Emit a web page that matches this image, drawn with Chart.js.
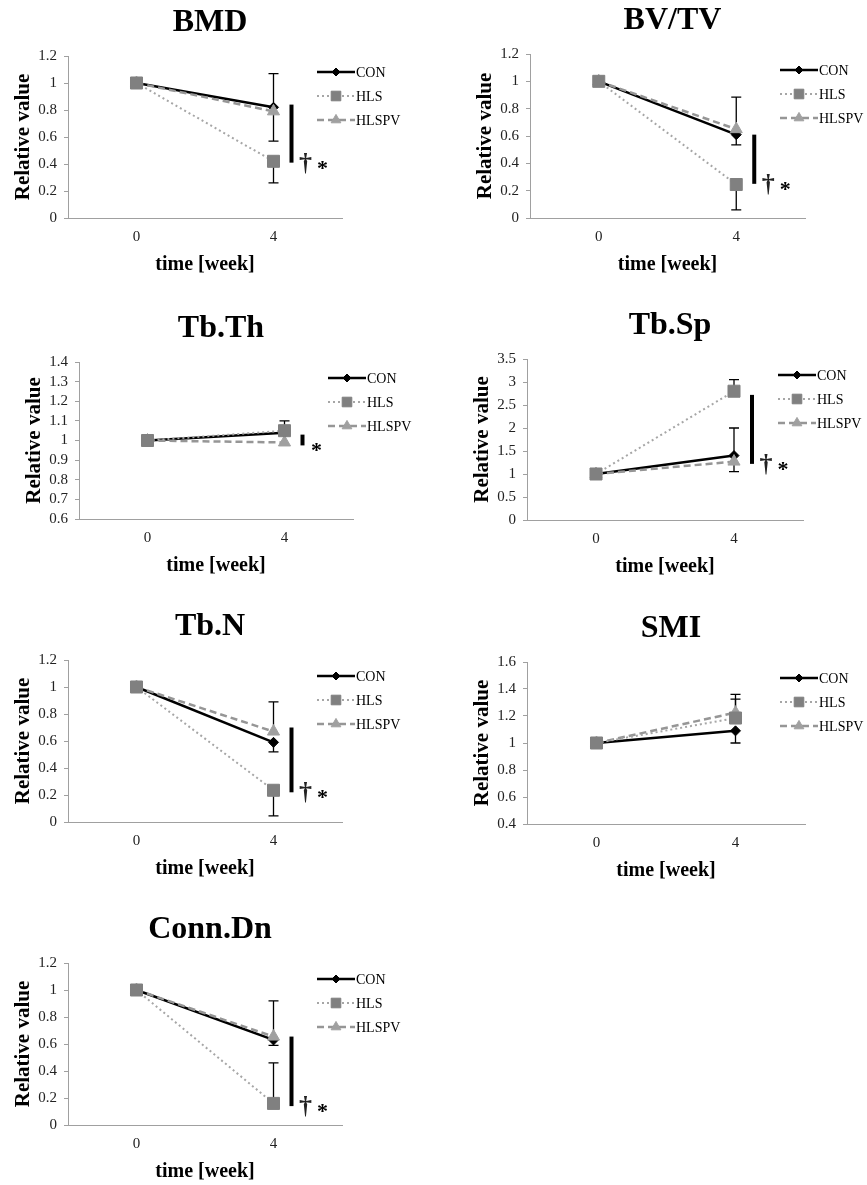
<!DOCTYPE html>
<html>
<head>
<meta charset="utf-8">
<script src="https://cdn.jsdelivr.net/npm/chart.js@4"></script>
<style>
  body { margin: 0; background: #fff; }
  .panel { position: absolute; height: 285px; }
</style>
</head>
<body>
<div class="panel" style="left:0;top:0"><canvas id="c0" width="430" height="285"></canvas></div>
<div class="panel" style="left:430px;top:0"><canvas id="c1" width="437" height="285"></canvas></div>
<div class="panel" style="left:0;top:300px"><canvas id="c2" width="430" height="285"></canvas></div>
<div class="panel" style="left:430px;top:300px"><canvas id="c3" width="437" height="285"></canvas></div>
<div class="panel" style="left:0;top:600px"><canvas id="c4" width="430" height="285"></canvas></div>
<div class="panel" style="left:430px;top:600px"><canvas id="c5" width="437" height="285"></canvas></div>
<div class="panel" style="left:0;top:900px"><canvas id="c6" width="430" height="285"></canvas></div>
<script>
const weeks = ['0', '4'];
const groups = ['CON', 'HLS', 'HLSPV'];
const titles = ['BMD', 'BV/TV', 'Tb.Th', 'Tb.Sp', 'Tb.N', 'SMI', 'Conn.Dn'];

// relative values at week 0 and week 4
const bmdCon = [1, 0.82], bmdHls = [1, 0.42], bmdHlspv = [1, 0.79];
const bvtvCon = [1, 0.61], bvtvHls = [1, 0.245], bvtvHlspv = [1, 0.65];
const tbthCon = [1, 1.04], tbthHls = [1, 1.05], tbthHlspv = [1, 0.99];
const tbspCon = [1, 1.40], tbspHls = [1, 2.80], tbspHlspv = [1, 1.27];
const tbnCon = [1, 0.59], tbnHls = [1, 0.235], tbnHlspv = [1, 0.67];
const smiCon = [1, 1.09], smiHls = [1, 1.185], smiHlspv = [1, 1.225];
const connCon = [1, 0.63], connHls = [1, 0.16], connHlspv = [1, 0.655];

// error bars at week 4 (CON, HLS, HLSPV)
const bmdErrUp = [0.25, 0, 0], bmdErrDown = [0.25, 0.16, 0];
const bvtvErrUp = [0, 0, 0.235], bvtvErrDown = [0.075, 0.185, 0];
const tbthErrUp = [0, 0.05, 0], tbthErrDown = [0, 0, 0];
const tbspErrUp = [0.6, 0.25, 0], tbspErrDown = [0, 0, 0.22];
const tbnErrUp = [0, 0, 0.22], tbnErrDown = [0.07, 0.19, 0];
const smiErrUp = [0, 0.14, 0.135], smiErrDown = [0.09, 0, 0];
const connErrUp = [0, 0.30, 0.265], connErrDown = [0.04, 0, 0];

// significance bar (from, to) and its marks
const bmdSig = [0.41, 0.84], bmdMarks = ['†', '*'];
const bvtvSig = [0.25, 0.61], bvtvMarks = ['†', '*'];
const tbthSig = [0.975, 1.03], tbthMarks = ['*'];
const tbspSig = [1.22, 2.72], tbspMarks = ['†', '*'];
const tbnSig = [0.22, 0.70], tbnMarks = ['†', '*'];
const smiSig = [], smiMarks = [];
const connSig = [0.14, 0.655], connMarks = ['†', '*'];

// y axis: min, max, step
const bmdAxis = [0, 1.2, 0.2];
const bvtvAxis = [0, 1.2, 0.2];
const tbthAxis = [0.6, 1.4, 0.1];
const tbspAxis = [0, 3.5, 0.5];
const tbnAxis = [0, 1.2, 0.2];
const smiAxis = [0.4, 1.6, 0.2];
const connAxis = [0, 1.2, 0.2];

const panels = [
  { series: [bmdCon, bmdHls, bmdHlspv], up: bmdErrUp, down: bmdErrDown, sig: bmdSig, marks: bmdMarks, axis: bmdAxis, area: [68, 56, 342, 218] },
  { series: [bvtvCon, bvtvHls, bvtvHlspv], up: bvtvErrUp, down: bvtvErrDown, sig: bvtvSig, marks: bvtvMarks, axis: bvtvAxis, area: [100, 54, 375, 218] },
  { series: [tbthCon, tbthHls, tbthHlspv], up: tbthErrUp, down: tbthErrDown, sig: tbthSig, marks: tbthMarks, axis: tbthAxis, area: [79, 62, 353, 219] },
  { series: [tbspCon, tbspHls, tbspHlspv], up: tbspErrUp, down: tbspErrDown, sig: tbspSig, marks: tbspMarks, axis: tbspAxis, area: [97, 59, 373, 220] },
  { series: [tbnCon, tbnHls, tbnHlspv], up: tbnErrUp, down: tbnErrDown, sig: tbnSig, marks: tbnMarks, axis: tbnAxis, area: [68, 60, 342, 222] },
  { series: [smiCon, smiHls, smiHlspv], up: smiErrUp, down: smiErrDown, sig: smiSig, marks: smiMarks, axis: smiAxis, area: [97, 62, 375, 224] },
  { series: [connCon, connHls, connHlspv], up: connErrUp, down: connErrDown, sig: connSig, marks: connMarks, axis: connAxis, area: [68, 63, 342, 225] }
];

const FONT = "'Liberation Serif', 'Times New Roman', serif";
const H = 285;

const styles = [
  { borderColor: '#000', pointBackgroundColor: '#000', pointBorderColor: '#000', borderWidth: 2.5, borderDash: [], pointStyle: 'rectRot', pointRadius: 5, order: 3 },
  { borderColor: '#a6a6a6', pointBackgroundColor: '#808080', pointBorderColor: '#808080', borderWidth: 2, borderDash: [2, 3], pointStyle: 'rect', pointRadius: 8.5, order: 1 },
  { borderColor: '#969696', pointBackgroundColor: '#a0a0a0', pointBorderColor: '#a0a0a0', borderWidth: 2.5, borderDash: [7, 4], pointStyle: 'triangle', pointRadius: 7, order: 2 }
];

// error bars under the markers
const errorBars = {
  id: 'errorBars',
  beforeDatasetsDraw(chart) {
    const p = chart.options.plugins.errorBars.panel;
    const y = chart.scales.y;
    const ctx = chart.ctx;
    ctx.save();
    ctx.strokeStyle = '#000';
    ctx.lineWidth = 1.3;
    groups.forEach((g, i) => {
      const pt = chart.getDatasetMeta(i).data[1];
      const v = p.series[i][1];
      const top = y.getPixelForValue(v + p.up[i]);
      const bot = y.getPixelForValue(v - p.down[i]);
      ctx.beginPath();
      ctx.moveTo(pt.x, top);
      ctx.lineTo(pt.x, bot);
      if (p.up[i]) { ctx.moveTo(pt.x - 5, top); ctx.lineTo(pt.x + 5, top); }
      if (p.down[i]) { ctx.moveTo(pt.x - 5, bot); ctx.lineTo(pt.x + 5, bot); }
      ctx.stroke();
    });
    ctx.restore();
  }
};

// title, legend and significance marks
const extras = {
  id: 'extras',
  afterDraw(chart) {
    const p = chart.options.plugins.extras.panel;
    const title = chart.options.plugins.extras.title;
    const ctx = chart.ctx;
    const a = chart.chartArea;
    const x = chart.scales.x, y = chart.scales.y;
    ctx.save();
    ctx.fillStyle = '#000';
    ctx.font = 'bold 32px ' + FONT;
    ctx.textAlign = 'center';
    ctx.textBaseline = 'middle';
    ctx.fillText(title, (a.left + a.right) / 2 + 5, a.top - 33);

    // legend
    const lx = a.right - 25;
    groups.forEach((g, i) => {
      const s = styles[i];
      const ly = a.top + 16 + i * 24;
      ctx.save();
      ctx.strokeStyle = s.borderColor;
      ctx.lineWidth = s.borderWidth;
      ctx.setLineDash(s.borderDash);
      ctx.beginPath();
      ctx.moveTo(lx, ly);
      ctx.lineTo(lx + 38, ly);
      ctx.stroke();
      ctx.restore();
      ctx.fillStyle = s.pointBackgroundColor;
      ctx.strokeStyle = s.pointBorderColor;
      Chart.helpers.drawPoint(ctx, { pointStyle: s.pointStyle, radius: s.pointRadius * 0.8, rotation: 0, borderWidth: 1 }, lx + 19, ly);
      ctx.fillStyle = '#000';
      ctx.font = '14px ' + FONT;
      ctx.textAlign = 'left';
      ctx.fillText(g, lx + 39, ly + 1);
    });

    // significance bar
    if (p.sig.length) {
      const bx = x.getPixelForValue(1) + 18;
      const yb = y.getPixelForValue(p.sig[0]);
      ctx.strokeStyle = '#000';
      ctx.lineWidth = 4;
      ctx.beginPath();
      ctx.moveTo(bx, y.getPixelForValue(p.sig[1]));
      ctx.lineTo(bx, yb);
      ctx.stroke();
      ctx.textBaseline = 'alphabetic';
      ctx.textAlign = 'center';
      let mx = bx + 14;
      p.marks.forEach(m => {
        if (m === '†') {
          ctx.fillStyle = '#222';
          ctx.font = 'bold 26px ' + FONT;
          ctx.fillText(m, mx, yb + 8);
        } else {
          ctx.fillStyle = '#000';
          ctx.font = 'bold 22px ' + FONT;
          ctx.fillText(m, mx, yb + 12);
        }
        mx += 17;
      });
    }
    ctx.restore();
  }
};

panels.forEach((p, k) => {
  const [l, t, r, b] = p.area;
  const canvas = document.getElementById('c' + k);
  const W = canvas.width;
  new Chart(canvas, {
    type: 'line',
    data: {
      labels: weeks,
      datasets: groups.map((g, i) => Object.assign({ label: g, data: p.series[i], pointBorderWidth: 1, fill: false, tension: 0 }, styles[i]))
    },
    options: {
      responsive: false,
      animation: false,
      layout: { padding: { left: 0, top: t, right: W - r, bottom: 0 } },
      plugins: {
        legend: { display: false },
        tooltip: { enabled: false },
        errorBars: { panel: p },
        extras: { panel: p, title: titles[k] }
      },
      scales: {
        x: {
          type: 'category',
          offset: true,
          grid: { display: false, drawTicks: false },
          border: { display: true, color: '#a0a0a0', width: 1 },
          ticks: { color: '#222', font: { family: FONT, size: 15 }, padding: 10 },
          title: { display: true, text: 'time [week]', color: '#000', font: { family: FONT, size: 20, weight: 'bold' }, padding: { top: 0, bottom: H - (b + 47) - 12 } },
          afterFit(s) { s.height = H - b; s.paddingLeft = 0; s.paddingRight = 0; }
        },
        y: {
          min: p.axis[0],
          max: p.axis[1],
          grid: { drawOnChartArea: false, drawTicks: true, tickLength: 4, color: '#a0a0a0' },
          border: { display: true, color: '#a0a0a0', width: 1 },
          ticks: { stepSize: p.axis[2], autoSkip: false, color: '#222', font: { family: FONT, size: 15 }, padding: 7, callback: v => String(+v.toFixed(2)) },
          title: { display: true, text: 'Relative value', color: '#000', font: { family: FONT, size: 21, weight: 'bold' }, padding: { top: l - 44 - 12.6, bottom: 0 } },
          afterFit(s) { s.width = l; s.paddingTop = 0; s.paddingBottom = 0; }
        }
      }
    },
    plugins: [errorBars, extras]
  });
});
</script>
</body>
</html>
